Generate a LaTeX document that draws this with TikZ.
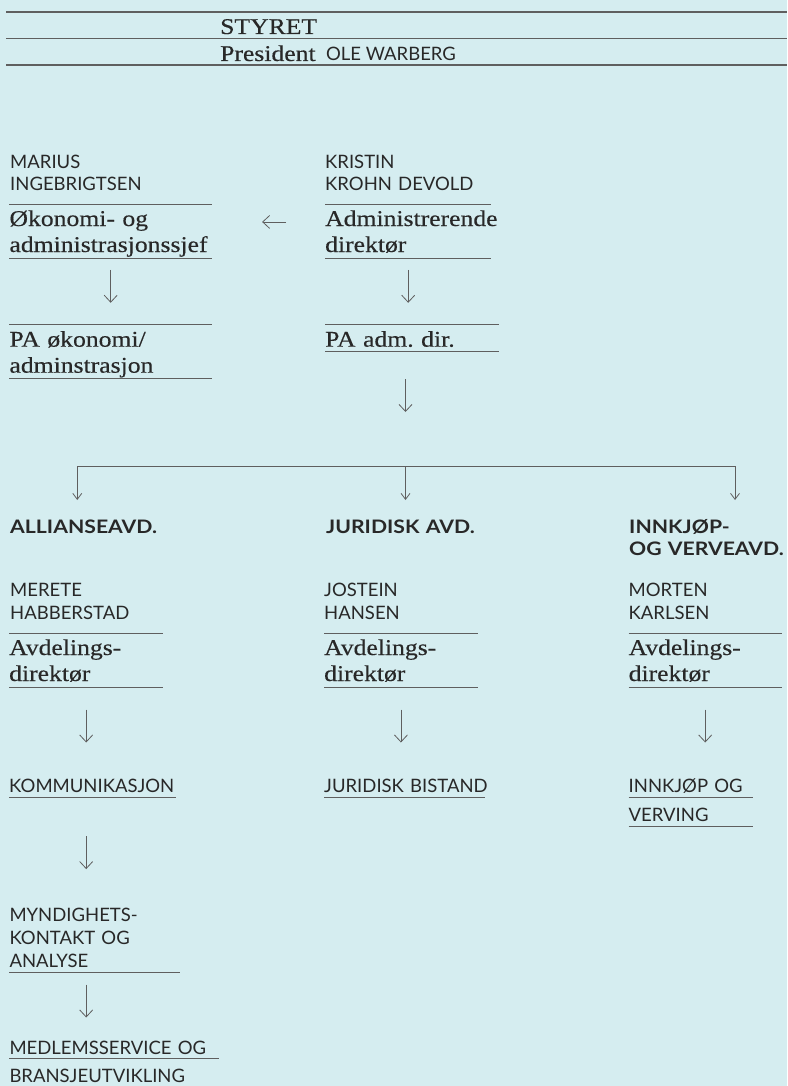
\documentclass[tikz,border=0pt]{standalone}
\usepackage{fontspec}
\setmainfont{Liberation Serif}[FakeStretch=1.14, FakeBold=0.35]
\newfontfamily\sansf{Lato}
\newfontfamily\deptf{Lato}[FakeStretch=1.14]
\usetikzlibrary{arrows.meta}
\definecolor{bgc}{RGB}{213,237,240}
\definecolor{ink}{RGB}{40,40,40}
\definecolor{linec}{RGB}{95,95,95}
\hyphenpenalty=10000
\exhyphenpenalty=10000
\frenchspacing
\newcommand{\serifsize}{\fontsize{22.5}{26}\selectfont}
\newcommand{\whosize}{\sansf\fontsize{18.5}{22.7}\selectfont}
\newcommand{\deptsize}{\deptf\bfseries\fontsize{18.6}{21.7}\selectfont}

\begin{document}
\begin{tikzpicture}[x=1pt, y=-1pt,
		serif/.style={font=\serifsize, text=ink, anchor=base west, inner sep=0pt},
		who/.style={font=\whosize, text=ink, anchor=base west, align=left, text width=200pt, inner sep=0pt},
		dept/.style={font=\deptsize, text=ink, anchor=base west, align=left, text width=200pt, inner sep=0pt},
		role/.style={serif, align=left, text height=21.7pt, text depth=32pt},
		unit/.style={who, text height=13.3pt, text depth=4.7pt},
		rule/.style={draw=linec, line width=0.9pt},
		down/.style={draw=linec, line width=0.8pt, -{Straight Barb[length=7pt,width=13pt]}},
		branch/.style={draw=linec, line width=0.8pt, -{Straight Barb[length=6pt,width=9pt]}}]
		\fill[bgc](0, 0) rectangle (787, 1086);
		\useasboundingbox(0, 0) rectangle (787, 1086);
		% styret
		\draw[rule, line width=1.2pt](6, 12)--(787, 12);
		\node[serif] (styret) at (220, 34) {STYRET};
		\draw[rule, line width=1.2pt](6, 38.5)--(787, 38.5);
		\node[serif] (pres) at (220, 61) {President};
		\node[who, text width=] (ole) at ([xshift=10pt]pres.base east) {OLE WARBERG};
		\draw[rule, line width=1.2pt](6, 65)--(787, 65);
		% ledelse
		\node[who] (marius) at (10, 168) {MARIUS\\INGEBRIGTSEN};
		\node[who] (kristin) at (325, 168) {KRISTIN\\KROHN DEVOLD};
		\node[role, text width=202.4pt] (oksjef) at (9.3, 226) {Økonomi- og\\administrasjonssjef};
		\node[role, text width=202.4pt] (paok) at (9.3, 346.7) {PA økonomi/\\adminstrasjon};
		\node[role, text width=166pt] (adm) at (325, 226) {Administrerende\\direktør};
		\node[role, text width=174pt, text depth=5pt] (paadm) at (325, 346.7) {PA adm. dir.};
		\draw[down, shorten <=11.7pt, shorten >=22pt](oksjef)--(paok);
		\draw[down, shorten <=11.7pt, shorten >=22pt](adm.south)--(adm.south |- paadm.north);
		\draw[down, shorten <=39pt, shorten >=50pt]([yshift=9.2pt]adm.west)--([yshift=9.2pt]oksjef.east);
		% avdelinger
		\coordinate (fork) at (405.5, 466.3);
		\coordinate (dropA) at (77.3, 500);
		\coordinate (dropB) at (405.5, 500);
		\coordinate (dropC) at (735, 500);
		\draw[down, shorten <=27.3pt, shorten >=54.3pt](fork |- paadm.south)--(fork);
		\draw[branch](fork)-|(dropA);
		\draw[branch](fork)--(dropB);
		\draw[branch](fork)-|(dropC);
		\node[dept] (alli) at (10, 533.3) {ALLIANSEAVD.};
		\node[dept] (jurid) at (326, 533.3) {JURIDISK AVD.};
		\node[dept] (innk) at (629, 533.3) {INNKJØP-\\OG VERVEAVD.};
		\node[who] (merete) at (10, 596.7) {MERETE\\HABBERSTAD};
		\node[who] (jostein) at (324, 596.7) {JOSTEIN\\HANSEN};
		\node[who] (morten) at (628.5, 596.7) {MORTEN\\KARLSEN};
		\node[role, text width=154pt] (avdA) at (9, 655) {Avdelings-\\direktør};
		\node[role, text width=153.5pt] (avdB) at (324, 655) {Avdelings-\\direktør};
		\node[role, text width=153pt] (avdC) at (628.5, 655) {Avdelings-\\direktør};
		\foreach \n in {oksjef, paok, adm, paadm, avdA, avdB, avdC}
			\draw[rule](\n.north west)--(\n.north east) (\n.south west)--(\n.south east);
		% enheter
		\node[unit, text width=166.5pt] (komm) at (9, 792.3) {\mbox{KOMMUNIKASJON}};
		\node[unit, text width=160.5pt] (jbist) at (324, 792.3) {\mbox{JURIDISK BISTAND}};
		\node[unit, text width=124pt] (innA) at (628.5, 792.3) {\mbox{INNKJØP OG}};
		\node[unit, text width=124pt] (innB) at (628.5, 821.7) {VERVING};
		\node[unit, text width=170pt, text depth=50.6pt] (mynd) at (9.3, 921.7) {MYNDIGHETS-\\KONTAKT OG\\ANALYSE};
		\node[unit, text width=209pt] (medA) at (9.3, 1054) {\mbox{MEDLEMSSERVICE OG}};
		\node[unit, text width=209pt] (medB) at (9.3, 1082.7) {BRANSJEUTVIKLING};
		\foreach \n in {komm, jbist, innA, innB, mynd, medA}
			\draw[rule](\n.south west)--(\n.south east);
		\draw[down, shorten <=22.3pt, shorten >=36.3pt](avdA.south)--(avdA.south |- komm.north);
		\draw[down, shorten <=22.3pt, shorten >=36.3pt](avdB.south)--(avdB.south |- jbist.north);
		\draw[down, shorten <=22.3pt, shorten >=36.3pt](avdC.south)--(avdC.south |- innA.north);
		\draw[down, shorten <=39pt, shorten >=39.1pt](avdA.south |- komm.south)--(avdA.south |- mynd.north);
		\draw[down, shorten <=12pt, shorten >=23pt](avdA.south |- mynd.south)--(avdA.south |- medA.north);
	\end{tikzpicture}
\end{document}
